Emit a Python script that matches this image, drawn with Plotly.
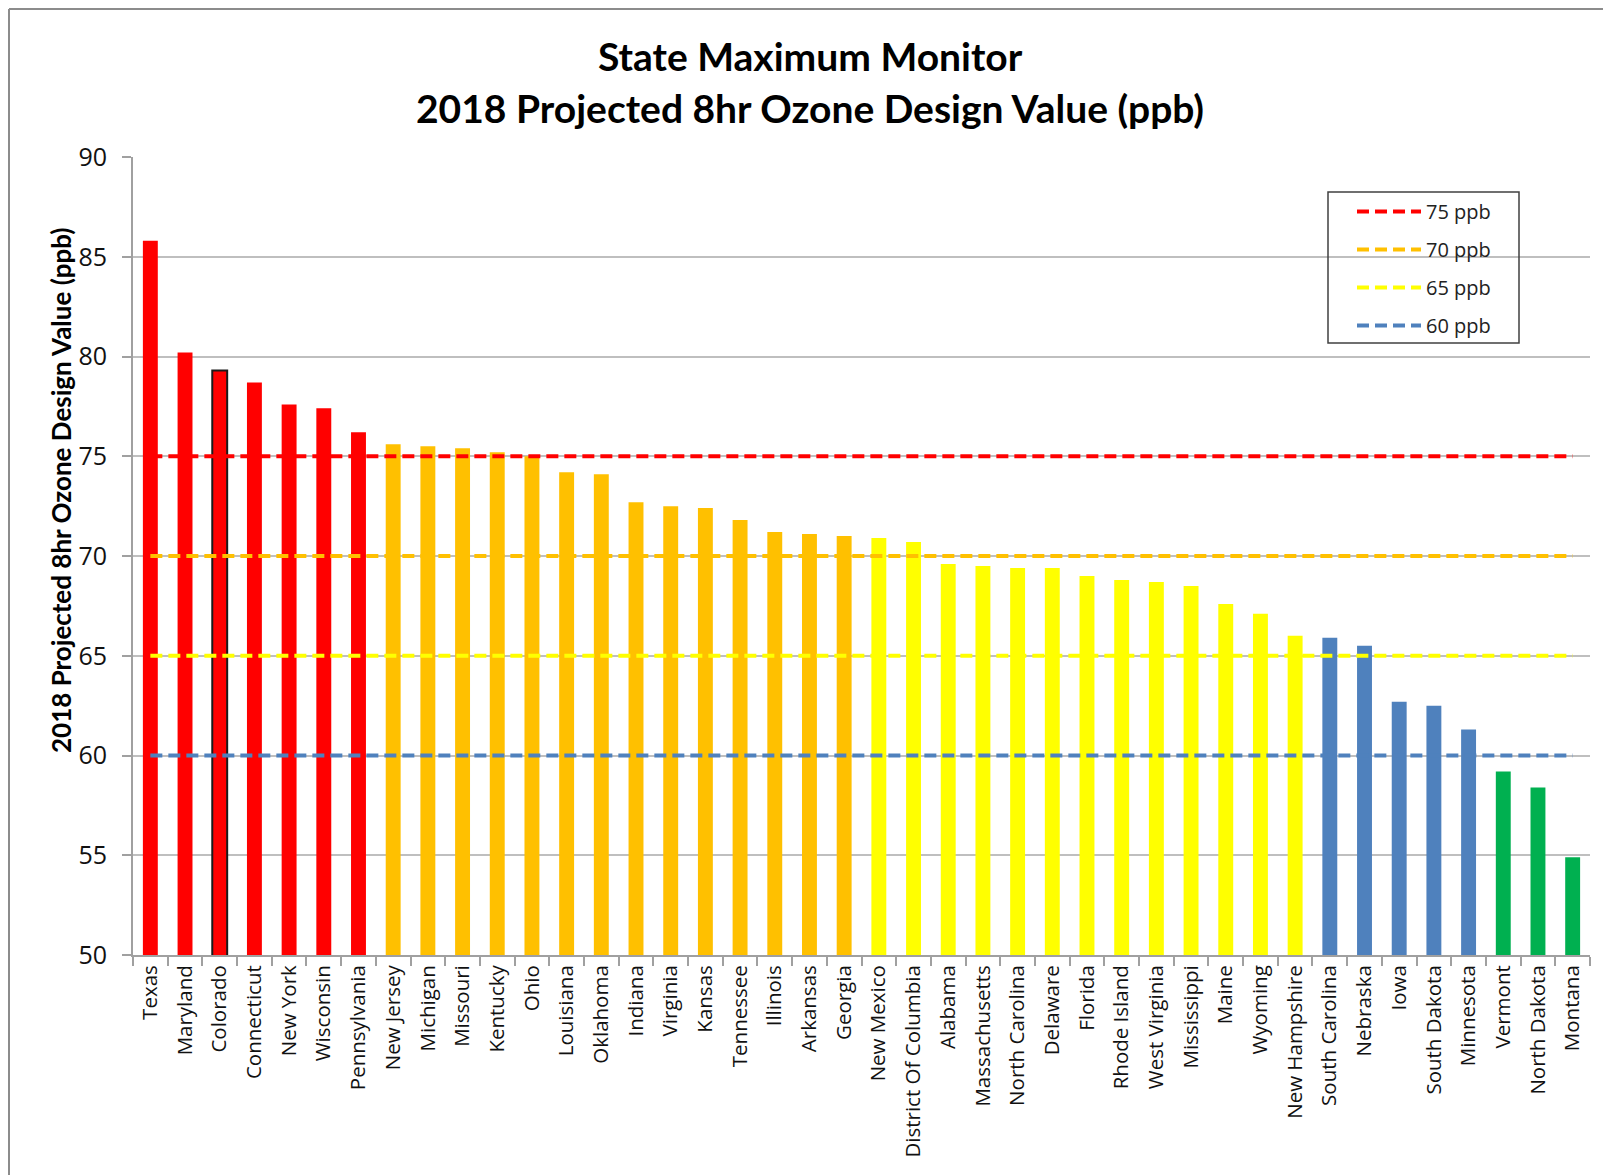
import plotly.graph_objects as go
import math

states = ["Texas", "Maryland", "Colorado", "Connecticut", "New York", "Wisconsin",
          "Pennsylvania", "New Jersey", "Michigan", "Missouri", "Kentucky", "Ohio",
          "Louisiana", "Oklahoma", "Indiana", "Virginia", "Kansas", "Tennessee",
          "Illinois", "Arkansas", "Georgia", "New Mexico", "District Of Columbia",
          "Alabama", "Massachusetts", "North Carolina", "Delaware", "Florida",
          "Rhode Island", "West Virginia", "Mississippi", "Maine", "Wyoming",
          "New Hampshire", "South Carolina", "Nebraska", "Iowa", "South Dakota",
          "Minnesota", "Vermont", "North Dakota", "Montana"]
design_values = [85.8, 80.2, 79.3, 78.7, 77.6, 77.4, 76.2, 75.6, 75.5, 75.4, 75.2, 75.0,
                 74.2, 74.1, 72.7, 72.5, 72.4, 71.8, 71.2, 71.1, 71.0, 70.9, 70.7,
                 69.6, 69.5, 69.4, 69.4, 69.0, 68.8, 68.7, 68.5, 67.6, 67.1,
                 66.0, 65.9, 65.5, 62.7, 62.5, 61.3, 59.2, 58.4, 54.9]
highlight_state = "Colorado"

thresholds = [75, 70, 65, 60]
threshold_labels = ["75 ppb", "70 ppb", "65 ppb", "60 ppb"]

RED, ORANGE, YELLOW, BLUE, GREEN = "#FF0000", "#FFC000", "#FFFF00", "#4F81BD", "#00B050"
threshold_colors = [RED, ORANGE, YELLOW, BLUE]


def bar_color(v):
    t = math.floor(v + 1e-9)
    if t > 75:
        return RED
    if t > 70:
        return ORANGE
    if t > 65:
        return YELLOW
    if t > 60:
        return BLUE
    return GREEN


colors = [bar_color(v) for v in design_values]
line_colors = ["#1a1a1a" if s == highlight_state else c for s, c in zip(states, colors)]
line_widths = [2 if s == highlight_state else 0 for s in states]

fig = go.Figure()
fig.add_trace(go.Bar(
    x=states, y=design_values, width=0.43,
    marker=dict(color=colors, line=dict(color=line_colors, width=line_widths)),
    showlegend=False,
))
for t, lab, c in zip(thresholds, threshold_labels, threshold_colors):
    fig.add_trace(go.Scatter(
        x=states, y=[t] * len(states), mode="lines", name=lab, legendgroup=lab,
        line=dict(color=c, width=4, dash="12px,6px"),
    ))

# page is offset by the 8px body margin
OFF = 8
W, H = 1611 - OFF, 1175 - OFF
PL, PR, PT, PB = 133, 1590, 157, 955  # plot area in page pixels
L, R, T, B = PL - OFF, W - (PR - OFF), PT - OFF, H - (PB - OFF)
pw = W - L - R
ph = H - T - B


def px_x(p):
    return (p - OFF - L) / pw


def px_y(p):
    return (H - B - (p - OFF)) / ph


fig.update_layout(
    width=W, height=H,
    margin=dict(l=L, r=R, t=T, b=B, autoexpand=False),
    paper_bgcolor="white", plot_bgcolor="white",
    font=dict(family="Open Sans", color="#111111"),
    legend=dict(
        x=px_x(1352), y=px_y(192), xanchor="left", yanchor="top",
        borderwidth=0, bgcolor="rgba(0,0,0,0)",
        font=dict(size=20, family="Open Sans", color="#222222"),
        traceorder="grouped", tracegroupgap=9, itemwidth=64,
    ),
    xaxis=dict(
        type="category", tickangle=-90, tickson="boundaries",
        ticks="outside", ticklen=9, tickcolor="#A0A0A0", tickwidth=1.5,
        showline=True, linecolor="#A0A0A0", linewidth=2,
        tickfont=dict(size=20.5, family="Open Sans", color="#111111"),
        showgrid=False, range=[-0.5, len(states) - 0.5],
    ),
    yaxis=dict(
        range=[50, 90], dtick=5, tick0=50,
        ticks="outside", ticklen=9, tickcolor="#A0A0A0", tickwidth=1.5,
        showline=True, linecolor="#A0A0A0", linewidth=2,
        gridcolor="#BFBFBF", gridwidth=1.5,
        tickfont=dict(size=25, family="Open Sans", color="#111111"),
        ticklabelstandoff=10,
        zeroline=False,
    ),
    annotations=[
        dict(text="<b>State Maximum Monitor</b>", x=px_x(810), y=px_y(56),
             xref="paper", yref="paper", xanchor="center", yanchor="middle",
             showarrow=False, font=dict(size=39, family="Lato", color="#000000")),
        dict(text="<b>2018 Projected 8hr Ozone Design Value (ppb)</b>", x=px_x(810), y=px_y(108),
             xref="paper", yref="paper", xanchor="center", yanchor="middle",
             showarrow=False, font=dict(size=39, family="Lato", color="#000000")),
        dict(text="<b>2018 Projected 8hr Ozone Design Value (ppb)</b>", x=px_x(61), y=px_y(491),
             xref="paper", yref="paper", xanchor="center", yanchor="middle",
             textangle=-90, showarrow=False,
             font=dict(size=26, family="Lato", color="#000000")),
    ],
    shapes=[
        dict(type="rect", xref="paper", yref="paper", x0=px_x(1328), x1=px_x(1519),
             y0=px_y(192), y1=px_y(343), line=dict(color="#404040", width=1.5),
             fillcolor="rgba(0,0,0,0)", layer="above"),
        dict(type="line", xref="paper", yref="paper", x0=px_x(9), x1=px_x(9),
             y0=px_y(9), y1=px_y(1175), line=dict(color="#8C8C8C", width=2)),
        dict(type="line", xref="paper", yref="paper", x0=px_x(9), x1=px_x(1611),
             y0=px_y(9), y1=px_y(9), line=dict(color="#8C8C8C", width=2)),
    ],
)

fig.write_html("out.html")
